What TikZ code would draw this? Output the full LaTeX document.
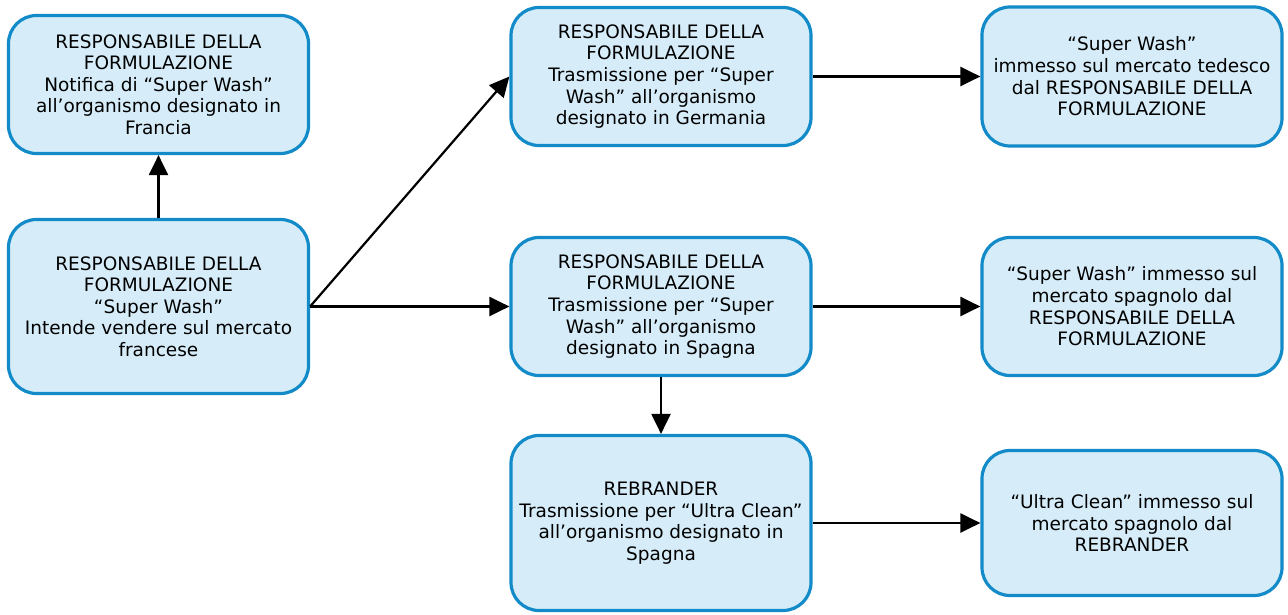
\documentclass[tikz,border=0pt]{standalone}
\usepackage{fontspec}
\setmainfont{DejaVu Sans}
\usetikzlibrary{arrows.meta}
\definecolor{boxfill}{HTML}{D6EDF9}
\definecolor{boxline}{HTML}{138BC9}
\tikzset{
  box/.style={draw=boxline, fill=boxfill, line width=3.2pt, rounded corners=28pt,
    minimum width=300pt, align=center, inner sep=4pt, text=black,
    font=\fontsize{18.5}{21.6}\selectfont},
  conn/.style={line width=2.2pt, -{Triangle[length=20pt,width=19pt]}}
}
\begin{document}
\begin{tikzpicture}[x=1pt,y=-1pt]
\useasboundingbox (0,0) rectangle (1288,615);
\node[box, minimum height=138pt] (A) at (158.5,84.5) {RESPONSABILE DELLA\\FORMULAZIONE\\Notifica di “Super Wash”\\all’organismo designato in\\Francia};
\node[box, minimum height=174pt] (B) at (158.5,306.5) {RESPONSABILE DELLA\\FORMULAZIONE\\“Super Wash”\\Intende vendere sul mercato\\francese};
\node[box, minimum height=138pt] (C) at (661,76.5) {RESPONSABILE DELLA\\FORMULAZIONE\\Trasmissione per “Super\\Wash” all’organismo\\designato in Germania};
\node[box, minimum height=138pt] (D) at (661,306.5) {RESPONSABILE DELLA\\FORMULAZIONE\\Trasmissione per “Super\\Wash” all’organismo\\designato in Spagna};
\node[box, minimum height=175pt] (E) at (661,523) {REBRANDER\\Trasmissione per “Ultra Clean”\\all’organismo designato in\\Spagna};
\node[box, minimum height=139pt] (F) at (1132,76.5) {“Super Wash”\\immesso sul mercato tedesco\\dal RESPONSABILE DELLA\\FORMULAZIONE};
\node[box, minimum height=138pt] (G) at (1132,306.5) {“Super Wash” immesso sul\\mercato spagnolo dal\\RESPONSABILE DELLA\\FORMULAZIONE};
\node[box, minimum height=145pt] (H) at (1132,523) {“Ultra Clean” immesso sul\\mercato spagnolo dal\\REBRANDER};
\draw[conn] (B.north) -- (A.south);
\draw[conn] (B.east) -- (C.west);
\draw[conn] (B.east) -- (D.west);
\draw[conn] (C.east) -- (F.west);
\draw[conn] (D.east) -- (G.west);
\draw[conn] (D.south) -- (E.north);
\draw[conn] (E.east) -- (H.west);
\end{tikzpicture}
\end{document}
